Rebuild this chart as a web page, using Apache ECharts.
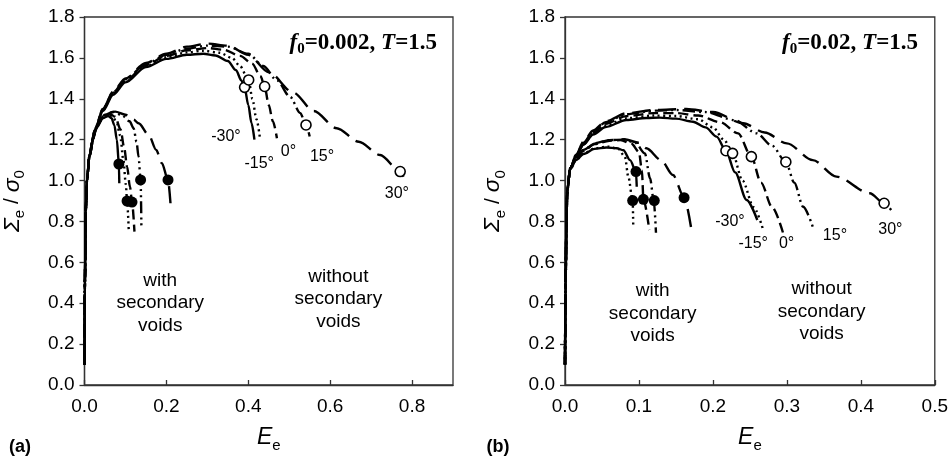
<!DOCTYPE html>
<html><head><meta charset="utf-8">
<script src="https://cdn.jsdelivr.net/npm/echarts@6/dist/echarts.min.js"></script>
<style>html,body{margin:0;padding:0;background:#fff}#c{width:951px;height:458px}</style>
</head><body><div id="c"></div>
<script>
// ---------- data ----------
const angles = ['-30°', '-15°', '0°', '15°', '30°'];
const xTicksA = [0, 0.2, 0.4, 0.6, 0.8];
const xTicksB = [0, 0.1, 0.2, 0.3, 0.4, 0.5];
const yTicks = [0, 0.2, 0.4, 0.6, 0.8, 1.0, 1.2, 1.4, 1.6, 1.8];

// panel (a) f0=0.002 : without secondary voids
const aWoM30 = [[0,0.1],[0.001,0.5],[0.003,0.85],[0.006,1.0],[0.012,1.12],[0.025,1.24],[0.045,1.34],[0.07,1.42],[0.1,1.48],[0.15,1.555],[0.2,1.595],[0.25,1.615],[0.29,1.62],[0.32,1.612],[0.35,1.585],[0.37,1.54],[0.383,1.49],[0.391,1.456],[0.4,1.37],[0.408,1.28],[0.415,1.2]];
const aWoM15 = [[0,0.1],[0.001,0.5],[0.003,0.85],[0.006,1.0],[0.012,1.12],[0.025,1.245],[0.045,1.345],[0.07,1.425],[0.1,1.485],[0.15,1.56],[0.2,1.603],[0.25,1.627],[0.29,1.635],[0.33,1.625],[0.36,1.6],[0.38,1.56],[0.395,1.515],[0.401,1.492],[0.41,1.4],[0.42,1.3],[0.428,1.215]];
const aWo0 = [[0,0.1],[0.001,0.5],[0.003,0.85],[0.006,1.0],[0.012,1.12],[0.025,1.245],[0.045,1.35],[0.07,1.43],[0.1,1.49],[0.15,1.565],[0.2,1.61],[0.25,1.637],[0.3,1.648],[0.34,1.64],[0.38,1.61],[0.409,1.573],[0.43,1.51],[0.44,1.46],[0.45,1.37],[0.46,1.29],[0.47,1.207]];
const aWo15 = [[0,0.1],[0.001,0.5],[0.003,0.85],[0.006,1.0],[0.012,1.12],[0.025,1.245],[0.045,1.35],[0.07,1.432],[0.1,1.495],[0.15,1.57],[0.2,1.615],[0.25,1.645],[0.3,1.66],[0.35,1.655],[0.4,1.62],[0.437,1.56],[0.47,1.49],[0.502,1.41],[0.527,1.33],[0.541,1.272],[0.55,1.215]];
const aWo30 = [[0,0.1],[0.001,0.5],[0.003,0.85],[0.006,1.0],[0.012,1.12],[0.025,1.245],[0.045,1.35],[0.07,1.435],[0.1,1.5],[0.15,1.575],[0.2,1.62],[0.25,1.655],[0.3,1.67],[0.35,1.66],[0.4,1.615],[0.45,1.53],[0.51,1.43],[0.56,1.34],[0.616,1.256],[0.67,1.19],[0.722,1.125],[0.771,1.044],[0.779,1.019]];
// panel (a) : with secondary voids
const aWM30 = [[0,0.1],[0.001,0.5],[0.003,0.85],[0.006,1.0],[0.012,1.12],[0.02,1.2],[0.03,1.26],[0.045,1.305],[0.058,1.316],[0.066,1.305],[0.073,1.27],[0.079,1.2],[0.084,1.081],[0.085,0.987]];
const aWM15 = [[0,0.1],[0.001,0.5],[0.003,0.85],[0.006,1.0],[0.012,1.12],[0.02,1.2],[0.03,1.265],[0.045,1.31],[0.06,1.322],[0.07,1.31],[0.079,1.28],[0.087,1.22],[0.095,1.1],[0.101,0.98],[0.104,0.9],[0.108,0.76]];
const aW0 = [[0,0.1],[0.001,0.5],[0.003,0.85],[0.006,1.0],[0.012,1.12],[0.02,1.2],[0.03,1.265],[0.045,1.312],[0.062,1.326],[0.075,1.312],[0.088,1.25],[0.097,1.16],[0.104,1.068],[0.111,0.97],[0.116,0.897],[0.122,0.75]];
const aW15 = [[0,0.1],[0.001,0.5],[0.003,0.85],[0.006,1.0],[0.012,1.12],[0.02,1.2],[0.03,1.27],[0.05,1.322],[0.07,1.335],[0.09,1.322],[0.11,1.29],[0.12,1.256],[0.127,1.19],[0.132,1.117],[0.137,1.003],[0.139,0.766]];
const aW30 = [[0,0.1],[0.001,0.5],[0.003,0.85],[0.006,1.0],[0.012,1.12],[0.02,1.2],[0.03,1.27],[0.05,1.325],[0.075,1.337],[0.1,1.322],[0.12,1.298],[0.132,1.28],[0.157,1.223],[0.175,1.15],[0.189,1.085],[0.204,1.003],[0.21,0.889]];
const aOpen = [[0.391,1.456],[0.401,1.492],[0.44,1.46],[0.541,1.272],[0.771,1.044]];
const aFilled = [[0.084,1.081],[0.104,0.9],[0.116,0.895],[0.137,1.003],[0.204,1.003]];
const aAngleAt = [[0.3456,1.215],[0.4268,1.085],[0.498,1.141],[0.58,1.117],[0.763,0.938]];

// panel (b) f0=0.02 : without secondary voids
const bWoM30 = [[0,0.1],[0.0008,0.5],[0.002,0.8],[0.003,0.95],[0.007,1.06],[0.015,1.12],[0.025,1.175],[0.038,1.225],[0.055,1.262],[0.083,1.296],[0.11,1.306],[0.128,1.308],[0.15,1.303],[0.173,1.288],[0.19,1.26],[0.205,1.215],[0.2176,1.146],[0.23,1.04],[0.2455,0.905],[0.26,0.807]];
const bWoM15 = [[0,0.1],[0.0008,0.5],[0.002,0.8],[0.003,0.95],[0.007,1.06],[0.015,1.12],[0.025,1.178],[0.038,1.23],[0.055,1.27],[0.083,1.305],[0.12,1.318],[0.15,1.316],[0.18,1.3],[0.2,1.26],[0.215,1.2],[0.2266,1.133],[0.24,1.0],[0.255,0.87],[0.268,0.758]];
const bWo0 = [[0,0.1],[0.0008,0.5],[0.002,0.8],[0.003,0.95],[0.007,1.06],[0.015,1.122],[0.025,1.18],[0.038,1.235],[0.055,1.278],[0.083,1.315],[0.12,1.33],[0.15,1.33],[0.18,1.318],[0.21,1.285],[0.234,1.231],[0.252,1.117],[0.265,0.99],[0.28,0.87],[0.295,0.742]];
const bWo15 = [[0,0.1],[0.0008,0.5],[0.002,0.8],[0.003,0.95],[0.007,1.06],[0.015,1.124],[0.025,1.185],[0.038,1.24],[0.055,1.285],[0.083,1.325],[0.12,1.342],[0.15,1.345],[0.19,1.335],[0.23,1.295],[0.259,1.231],[0.28,1.17],[0.2986,1.091],[0.31,0.99],[0.322,0.872],[0.3356,0.767]];
const bWo30 = [[0,0.1],[0.0008,0.5],[0.002,0.8],[0.003,0.95],[0.007,1.06],[0.015,1.126],[0.025,1.19],[0.038,1.245],[0.055,1.29],[0.083,1.329],[0.12,1.345],[0.164,1.35],[0.2,1.335],[0.241,1.28],[0.27,1.235],[0.3,1.182],[0.335,1.1],[0.367,1.019],[0.412,0.938],[0.4315,0.889],[0.441,0.856]];
// panel (b) : with secondary voids
const bWM30 = [[0,0.1],[0.0008,0.5],[0.002,0.8],[0.003,0.95],[0.007,1.055],[0.015,1.1],[0.025,1.13],[0.04,1.155],[0.056,1.162],[0.07,1.158],[0.079,1.148],[0.088,1.1],[0.096,1.044],[0.097,0.97]];
const bWM15 = [[0,0.1],[0.0008,0.5],[0.002,0.8],[0.003,0.95],[0.007,1.055],[0.015,1.1],[0.025,1.132],[0.04,1.158],[0.058,1.166],[0.072,1.155],[0.081,1.117],[0.0856,1.019],[0.0915,0.902],[0.0923,0.77]];
const bW0 = [[0,0.1],[0.0008,0.5],[0.002,0.8],[0.003,0.95],[0.007,1.06],[0.015,1.11],[0.025,1.145],[0.04,1.178],[0.06,1.195],[0.075,1.198],[0.09,1.18],[0.1,1.14],[0.104,1.05],[0.106,0.908],[0.114,0.758]];
const bW15 = [[0,0.1],[0.0008,0.5],[0.002,0.8],[0.003,0.95],[0.007,1.06],[0.015,1.112],[0.025,1.148],[0.04,1.18],[0.06,1.198],[0.08,1.2],[0.095,1.185],[0.108,1.133],[0.115,1.011],[0.12,0.902],[0.123,0.745]];
const bW30 = [[0,0.1],[0.0008,0.5],[0.002,0.8],[0.003,0.95],[0.007,1.06],[0.015,1.112],[0.025,1.15],[0.04,1.182],[0.06,1.198],[0.08,1.202],[0.1,1.185],[0.11,1.158],[0.13,1.1],[0.146,1.027],[0.161,0.918],[0.171,0.758]];
const bOpen = [[0.2176,1.146],[0.2266,1.133],[0.252,1.117],[0.2986,1.091],[0.4315,0.889]];
const bFilled = [[0.096,1.044],[0.0915,0.902],[0.106,0.908],[0.1207,0.902],[0.161,0.916]];
const bAngleAt = [[0.223,0.799],[0.2545,0.693],[0.2996,0.693],[0.365,0.729],[0.44,0.758]];

const regionText = ['with\nsecondary\nvoids', 'without\nsecondary\nvoids'];
const aRegionAt = [[0.185,0.40],[0.62,0.42]];
const bRegionAt = [[0.1185,0.35],[0.347,0.36]];

// ---------- styles ----------
const SANS = '"Liberation Sans", Arial, sans-serif';
const SERIF = '"Liberation Serif", "Times New Roman", serif';
const TXT = '#000';
const AX = '#333';
const dashes = ['solid', [2, 3.5], [10, 5], [12, 4, 2, 4, 2, 4], [18, 8]];

function lineSeries(data, k, gi) {
  return {
    type: 'line', data: data, xAxisIndex: gi, yAxisIndex: gi,
    showSymbol: false, smooth: 0.3, smoothMonotone: 'x', silent: true,
    lineStyle: { color: '#000', width: 2.4, type: dashes[k], opacity: 1 }, z: 3
  };
}
function circles(data, gi, filled) {
  return {
    type: 'scatter', data: data, xAxisIndex: gi, yAxisIndex: gi, silent: true,
    symbol: 'circle', symbolSize: filled ? 11 : 10, z: 5,
    itemStyle: filled ? { color: '#000', opacity: 1 } : { color: '#fff', borderColor: '#000', borderWidth: 1.6, opacity: 1 }
  };
}
function textSeries(pts, texts, gi, size, lh) {
  return {
    type: 'scatter', xAxisIndex: gi, yAxisIndex: gi, silent: true, symbolSize: 0, z: 6,
    itemStyle: { opacity: 1 },
    data: pts.map((p, i) => ({ value: p, name: texts[i] })),
    label: { show: true, position: 'inside', formatter: p => p.name,
      fontFamily: SANS, fontSize: size, lineHeight: lh, color: TXT, align: 'center', verticalAlign: 'middle' }
  };
}
function xAxis(gi, max, interval) {
  return {
    type: 'value', gridIndex: gi, min: 0, max: max, interval: interval,
    name: '{i|E}{s|e}', nameLocation: 'middle', nameGap: 38,
    nameTextStyle: { rich: {
      i: { fontFamily: SANS, fontStyle: 'italic', fontSize: 23, color: TXT, lineHeight: 30, verticalAlign: 'middle' },
      s: { fontFamily: SANS, fontSize: 15, color: TXT, lineHeight: 16, verticalAlign: 'bottom' } } },
    axisLine: { show: true, onZero: false, lineStyle: { color: AX, width: 1.3 } },
    axisTick: { show: true, inside: true, length: 5, lineStyle: { color: AX, width: 1.3 } },
    axisLabel: { margin: 12, fontFamily: SANS, fontSize: 19, color: TXT, showMaxLabel: max === 0.5,
      formatter: v => v.toFixed(1) },
    splitLine: { show: false }
  };
}
function yAxis(gi) {
  return {
    type: 'value', gridIndex: gi, min: 0, max: 1.8, interval: 0.2,
    name: '{i|Σ}{s|e}{n| / }{i|σ}{s|0}', nameLocation: 'middle', nameGap: 47, nameRotate: 90,
    nameTextStyle: { padding: [0, 0, 10, 0], rich: {
      i: { fontFamily: SANS, fontStyle: 'italic', fontSize: 23, color: TXT, lineHeight: 30, verticalAlign: 'middle' },
      n: { fontFamily: SANS, fontSize: 21, color: TXT, lineHeight: 30, verticalAlign: 'middle' },
      s: { fontFamily: SANS, fontSize: 15, color: TXT, lineHeight: 16, verticalAlign: 'bottom' } } },
    axisLine: { show: true, onZero: false, lineStyle: { color: AX, width: 1.3 } },
    axisTick: { show: true, inside: false, length: 5, lineStyle: { color: AX, width: 1.3 } },
    axisLabel: { margin: 10, fontFamily: SANS, fontSize: 19, color: TXT, formatter: v => v.toFixed(1) },
    splitLine: { show: false }
  };
}
function titleText(x, f0) {
  return {
    type: 'text', x: x, y: 43, silent: true,
    style: {
      text: '{b|f}{bs|0}{n|=' + f0 + ', }{b|T}{n|=1.5}',
      align: 'right', verticalAlign: 'middle',
      rich: {
        b: { fontFamily: SERIF, fontWeight: 'bold', fontStyle: 'italic', fontSize: 23, fill: '#000', lineHeight: 28, verticalAlign: 'middle' },
        n: { fontFamily: SERIF, fontWeight: 'bold', fontSize: 23, fill: '#000', lineHeight: 28, verticalAlign: 'middle' },
        bs: { fontFamily: SERIF, fontWeight: 'bold', fontSize: 15, fill: '#000', lineHeight: 15, verticalAlign: 'bottom' }
      }
    }
  };
}

const aCurvesWo = [aWoM30, aWoM15, aWo0, aWo15, aWo30];
const aCurvesW = [aWM30, aWM15, aW0, aW15, aW30];
const bCurvesWo = [bWoM30, bWoM15, bWo0, bWo15, bWo30];
const bCurvesW = [bWM30, bWM15, bW0, bW15, bW30];

const series = [];
aCurvesWo.forEach((d, k) => series.push(lineSeries(d, k, 0)));
aCurvesW.forEach((d, k) => series.push(lineSeries(d, k, 0)));
bCurvesWo.forEach((d, k) => series.push(lineSeries(d, k, 1)));
bCurvesW.forEach((d, k) => series.push(lineSeries(d, k, 1)));
series.push(circles(aOpen, 0, false), circles(aFilled, 0, true));
series.push(circles(bOpen, 1, false), circles(bFilled, 1, true));
series.push(textSeries(aAngleAt, angles, 0, 16, 18), textSeries(bAngleAt, angles, 1, 16, 18));
series.push(textSeries(aRegionAt, regionText, 0, 19, 22.5), textSeries(bRegionAt, regionText, 1, 19, 22.5));

const chart = echarts.init(document.getElementById('c'), null, { renderer: 'canvas' });
chart.setOption({
  animation: false,
  backgroundColor: '#fff',
  grid: [
    { left: 84, top: 17, width: 369, height: 368, show: true, borderColor: AX, borderWidth: 1.3, backgroundColor: 'transparent' },
    { left: 565, top: 17, width: 370, height: 368, show: true, borderColor: AX, borderWidth: 1.3, backgroundColor: 'transparent' }
  ],
  xAxis: [xAxis(0, 0.9, 0.2), xAxis(1, 0.5, 0.1)],
  yAxis: [yAxis(0), yAxis(1)],
  series: series,
  graphic: [
    titleText(437, '0.002'),
    titleText(918, '0.02'),
    { type: 'text', x: 20, y: 447, silent: true, style: { text: '(a)', fontFamily: SANS, fontWeight: 'bold', fontSize: 18, fill: '#000', align: 'center', verticalAlign: 'middle' } },
    { type: 'text', x: 498, y: 447, silent: true, style: { text: '(b)', fontFamily: SANS, fontWeight: 'bold', fontSize: 18, fill: '#000', align: 'center', verticalAlign: 'middle' } }
  ]
});
</script></body></html>
